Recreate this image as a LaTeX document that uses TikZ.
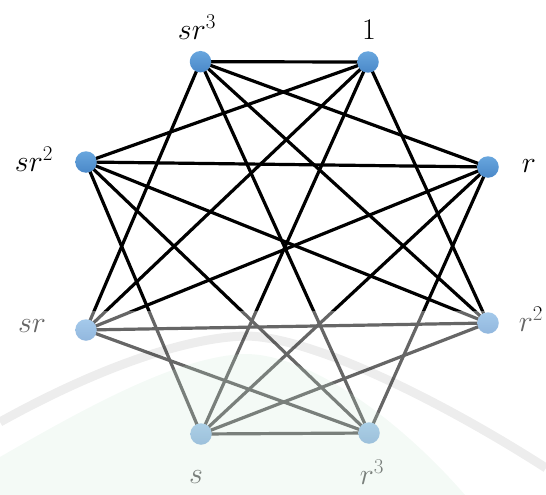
\RequirePackage{fix-cm}
\documentclass[tikz,border=0pt]{standalone}
\usetikzlibrary{backgrounds}
\definecolor{dotbluetop}{RGB}{104,166,222}
\definecolor{dotbluebot}{RGB}{74,136,200}
\definecolor{wmgreen}{RGB}{200,230,210}
\tikzset{
  vert/.style={circle, minimum size=21.5pt, inner sep=0pt, top color=dotbluetop, bottom color=dotbluebot, draw=none},
  lab/.style={inner sep=0pt, font=\fontsize{30}{36}\selectfont},
  edge/.style={line width=3.2pt, black},
}
\begin{document}
\begin{tikzpicture}[x=1pt, y=-1pt]
\useasboundingbox (0,0) rectangle (546,495);
% vertices
\node[vert] (sr3) at (200.5,61.7) {};
\node[vert] (one) at (368,62) {};
\node[vert] (r)   at (488,167) {};
\node[vert] (r2)  at (488,323) {};
\node[vert] (r3)  at (369,433) {};
\node[vert] (s)   at (201,434) {};
\node[vert] (sr)  at (86,330) {};
\node[vert] (sr2) at (86,162) {};
% edges
\begin{pgfonlayer}{background}
\foreach \a/\b in {sr3/one, sr3/r, sr3/r2, sr3/r3, sr3/sr,
                   one/sr2, one/sr, one/s, one/r2,
                   r/sr2, r/sr, r/s, r/r3,
                   sr2/s, sr2/r3, sr2/r2,
                   sr/r2, sr/r3, r2/s, r3/s}
  \draw[edge] (\a.center) -- (\b.center);
\end{pgfonlayer}
% labels
\node[lab] (lsr3) at (197,27) {$sr^3$};
\node[lab] (lone) at (369,30) {$1$};
\node[lab] (lr)   at (529,166) {$r$};
\node[lab] (lr2)  at (531,319) {$r^2$};
\node[lab] (lr3)  at (372,472) {$r^3$};
\node[lab] (ls)   at (196,477) {$s$};
\node[lab] (lsr)  at (32,326) {$sr$};
\node[lab] (lsr2) at (34,159) {$sr^2$};
% faded lower part (watermark overlay)
\fill[white, opacity=0.4] (0,311) rectangle (546,495);
\fill[wmgreen, opacity=0.2] (0,457) .. controls (90,405) and (180,356) .. (245,354)
   .. controls (310,354) and (400,420) .. (465,495) -- (0,495) -- cycle;
\draw[black, opacity=0.07, line width=9pt] (0,422) .. controls (90,372) and (180,338) .. (245,336)
   .. controls (310,336) and (440,400) .. (546,468);
\end{tikzpicture}
\end{document}
